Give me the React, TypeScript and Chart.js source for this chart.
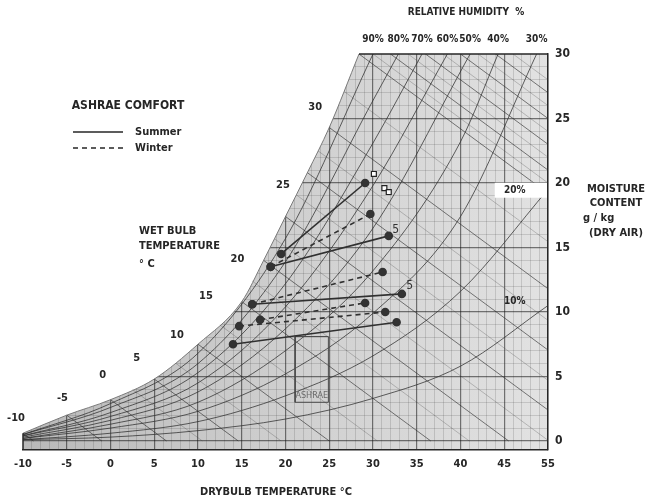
import React, { useEffect, useRef } from 'react';
import { Chart, registerables } from 'chart.js';

Chart.register(...registerables);

// ---- axis ticks ----
const xTickValues = [-10, -5, 0, 5, 10, 15, 20, 25, 30, 35, 40, 45, 50];
const xTickLabels = ['-10', '-5', '0', '5', '10', '15', '20', '25', '30', '35', '40', '45', '55'];
const yTickValues = [0, 5, 10, 15, 20, 25, 30];

// ---- saturation curve (dry bulb °C, moisture g/kg) ----
const satT = [-10, -5, 0, 5, 10, 15, 17.5, 20, 22.5, 25, 28.4];
const satW = [0.6, 2.0, 3.2, 4.8, 7.5, 10.8, 14.0, 17.4, 20.8, 24.3, 30];

// ---- relative humidity curves [T, W] ----
const rh90 = [[-10, 0.5], [0, 2.9], [10, 6.8], [20, 15.7], [30, 30]];
const rh80 = [[-10, 0.5], [0, 2.6], [10, 6.0], [20, 13.9], [30, 26.4], [32.9, 30]];
const rh70 = [[-10, 0.4], [0, 2.2], [10, 5.3], [20, 12.2], [30, 23.1], [35.6, 30]];
const rh60 = [[-10, 0.4], [0, 1.9], [10, 4.5], [20, 10.4], [30, 19.8], [38.5, 30]];
const rh50 = [[-10, 0.3], [0, 1.6], [10, 3.8], [20, 8.7], [30, 16.5], [41.1, 30]];
const rh40 = [[-10, 0.2], [0, 1.3], [10, 3.0], [20, 7.0], [30, 13.2], [40, 23.2], [44.3, 30]];
const rh30 = [[-10, 0.2], [0, 1.0], [10, 2.3], [20, 5.2], [30, 9.9], [40, 17.4], [48.7, 30]];
const rh20 = [[-10, 0.1], [0, 0.6], [10, 1.5], [20, 3.5], [30, 6.6], [40, 11.6], [50, 19.5]];
const rh10 = [[-10, 0.1], [0, 0.3], [10, 0.8], [20, 1.7], [30, 3.3], [40, 5.8], [50, 10.5]];
const rhCurves = [rh90, rh80, rh70, rh60, rh50, rh40, rh30, rh20, rh10];

// RH labels
const rhLabels = ['90%', '80%', '70%', '60%', '50%', '40%', '30%', '20%', '10%'];
const rhLabelT = [30.0, 32.9, 35.6, 38.5, 41.1, 44.3, 48.7, 46.2, 46.2];
const rhLabelW = [31.1, 31.1, 31.1, 31.1, 31.1, 31.1, 31.1, 19.4, 10.8];

// ---- wet bulb lines (main) ----
const wbStartT = [-10, -5, 0, 5, 10, 15, 17.5, 20, 22.5, 25, 28.4, 32, 36, 40, 44];
const wbStartW = [0.6, 2.0, 3.2, 4.8, 7.5, 10.8, 14.0, 17.4, 20.8, 24.3, 30, 30, 30, 30, 30];
const wbEndT = [-8.8, -1, 6.4, 14.6, 25, 36.6, 45.5, 50, 50, 50, 50, 50, 50, 50, 50];
const wbEndW = [0, 0, 0, 0, 0, 0, 0, 2.4, 7.05, 11.8, 19.2, 21, 23, 25, 27];
// ---- wet bulb lines (minor) ----
const wbMinStartT = [2.5, 7.5, 12.5, 16.2, 18.7, 21.2, 23.7, 26.7, 30, 34, 38, 42, 46];
const wbMinStartW = [4.0, 6.0, 9.0, 12.4, 15.7, 19.1, 22.5, 27.1, 30, 30, 30, 30, 30];
const wbMinEndT = [10.5, 19.5, 30.5, 41, 50, 50, 50, 50, 50, 50, 50, 50, 50];
const wbMinEndW = [0, 0, 0, 0, 0.05, 4.7, 9.35, 15.45, 20, 22, 24, 26, 28];

const wbLabels = ['30', '25', '20', '15', '10', '5', '0', '-5', '-10'];
const wbLabelT = [23.4, 19.7, 14.5, 10.9, 7.6, 3.0, -0.9, -5.5, -10.8];
const wbLabelW = [25.9, 19.8, 14.1, 11.2, 8.2, 6.4, 5.1, 3.3, 1.8];

// ---- ASHRAE comfort lines ----
const summerT = [[14.0, 32.7], [16.2, 33.3], [18.3, 31.8], [19.5, 29.1]];
const summerW = [[7.5, 9.2], [10.6, 11.4], [13.5, 15.9], [14.5, 20.0]];
const winterT = [[14.7, 31.4], [17.1, 29.1], [16.2, 31.1], [18.3, 29.7]];
const winterW = [[8.9, 10.0], [9.4, 10.7], [10.6, 13.1], [13.5, 17.6]];
const squareT = [30.1, 31.3, 31.8];
const squareW = [20.7, 19.6, 19.3];
const noteLabels = ['5', '5'];
const noteT = [32.6, 34.2];
const noteW = [16.4, 12.0];
const boxT = [21.1, 24.9, 24.9, 21.1, 21.1];
const boxW = [3.0, 3.0, 8.1, 8.1, 3.0];

const ink = '#262626';
const FAM = '"DejaVu Sans Condensed", "DejaVu Sans", sans-serif';

const textPlugin = {
  id: 'psyText',
  beforeDraw(chart: any) {
    const { ctx, chartArea: a } = chart;
    ctx.save();
    const g = ctx.createLinearGradient(a.left, 0, a.right, 0);
    g.addColorStop(0, '#b9b9b9');
    g.addColorStop(0.45, '#cdcdcd');
    g.addColorStop(1, '#e2e2e2');
    ctx.fillStyle = g;
    ctx.fillRect(a.left, a.top, a.right - a.left, a.bottom - a.top);
    ctx.restore();
  },
  afterDraw(chart: any) {
    const { ctx } = chart;
    const sx = chart.scales.x;
    const sy = chart.scales.y;
    const t = (s: string, x: number, y: number, size: number, align: CanvasTextAlign = 'center', color = ink, weight = 'bold') => {
      ctx.font = `${weight} ${size}px ${FAM}`;
      ctx.fillStyle = color;
      ctx.textAlign = align;
      ctx.textBaseline = 'middle';
      ctx.fillText(s, x, y);
    };
    ctx.save();
    // titles
    t('RELATIVE HUMIDITY  %', 466, 12, 10);
    t('DRYBULB TEMPERATURE °C', 276, 492, 11);
    t('MOISTURE', 616, 189, 11);
    t('CONTENT', 616, 203, 11);
    t('g / kg', 583, 218, 11, 'left');
    t('(DRY AIR)', 616, 233, 11);
    t('WET BULB', 139, 231, 11, 'left');
    t('TEMPERATURE', 139, 246, 11, 'left');
    t('° C', 139, 264, 11, 'left');
    // legend
    t('ASHRAE COMFORT', 128, 106, 12);
    ctx.strokeStyle = ink;
    ctx.lineWidth = 1.5;
    ctx.setLineDash([]);
    ctx.beginPath(); ctx.moveTo(73, 132); ctx.lineTo(123, 132); ctx.stroke();
    ctx.setLineDash([5, 4]);
    ctx.beginPath(); ctx.moveTo(73, 148); ctx.lineTo(124, 148); ctx.stroke();
    ctx.setLineDash([]);
    t('Summer', 135, 132, 11, 'left');
    t('Winter', 135, 148, 11, 'left');
    // RH labels
    rhLabels.forEach((s, i) => {
      const x = sx.getPixelForValue(rhLabelT[i]);
      const y = sy.getPixelForValue(rhLabelW[i]);
      if (s === '20%') {
        ctx.fillStyle = '#ffffff';
        ctx.fillRect(x - 20, y - 8, chart.chartArea.right - x + 19, 15);
      }
      t(s, x, y, 10);
    });
    // wet bulb labels
    wbLabels.forEach((s, i) => {
      t(s, sx.getPixelForValue(wbLabelT[i]), sy.getPixelForValue(wbLabelW[i]), 11);
    });
    noteLabels.forEach((s, i) => {
      t(s, sx.getPixelForValue(noteT[i]), sy.getPixelForValue(noteW[i]), 12, 'center', '#333', 'normal');
    });
    t('ASHRAE', sx.getPixelForValue(23.0), sy.getPixelForValue(3.5), 9, 'center', '#6a6a6a', 'normal');
    ctx.restore();
  },
};

export default function App() {
  const ref = useRef<HTMLCanvasElement>(null);
  useEffect(() => {
    const canvas = ref.current;
    if (!canvas) return;
    const pts = (T: number[], W: number[]) => T.map((v, i) => ({ x: v, y: W[i] }));
    const datasets: any[] = [];
    // white mask above saturation curve
    datasets.push({
      data: pts(satT, satW),
      borderColor: '#7a7a7a',
      borderWidth: 1,
      backgroundColor: '#ffffff',
      fill: 'end',
      pointRadius: 0,
      cubicInterpolationMode: 'monotone',
      order: 100,
    });
    // left edge stub and top edge
    datasets.push({
      data: [{ x: -10, y: -0.7 }, { x: -10, y: satW[0] }],
      borderColor: ink,
      borderWidth: 1.5,
      pointRadius: 0,
      clip: false,
      order: 90,
    });
    datasets.push({
      data: [{ x: satT[satT.length - 1], y: 30 }, { x: 50, y: 30 }],
      borderColor: ink,
      borderWidth: 1.5,
      pointRadius: 0,
      clip: false,
      order: 90,
    });
    rhCurves.forEach((c) => {
      datasets.push({
        data: c.map((p) => ({ x: p[0], y: p[1] })),
        borderColor: 'rgba(45,45,45,0.75)',
        borderWidth: 1,
        pointRadius: 0,
        cubicInterpolationMode: 'monotone',
        order: 60,
      });
    });
    wbStartT.forEach((v, i) => {
      datasets.push({
        data: [{ x: v, y: wbStartW[i] }, { x: wbEndT[i], y: wbEndW[i] }],
        borderColor: 'rgba(40,40,40,0.6)',
        borderWidth: 1,
        pointRadius: 0,
        order: 60,
      });
    });
    wbMinStartT.forEach((v, i) => {
      datasets.push({
        data: [{ x: v, y: wbMinStartW[i] }, { x: wbMinEndT[i], y: wbMinEndW[i] }],
        borderColor: 'rgba(60,60,60,0.35)',
        borderWidth: 0.8,
        pointRadius: 0,
        order: 61,
      });
    });
    datasets.push({
      data: pts(boxT, boxW),
      borderColor: '#4a4a4a',
      borderWidth: 1,
      pointRadius: 0,
      order: 40,
    });
    summerT.forEach((T, i) => {
      datasets.push({
        data: pts(T, summerW[i]),
        borderColor: '#303030',
        borderWidth: 1.6,
        pointRadius: 3.5,
        pointBackgroundColor: '#333',
        pointBorderColor: '#333',
        order: 5,
      });
    });
    winterT.forEach((T, i) => {
      datasets.push({
        data: pts(T, winterW[i]),
        borderColor: '#303030',
        borderWidth: 1.6,
        borderDash: [5, 4],
        pointRadius: 3.5,
        pointBackgroundColor: '#333',
        pointBorderColor: '#333',
        order: 5,
      });
    });
    datasets.push({
      data: pts(squareT, squareW),
      showLine: false,
      pointStyle: 'rect',
      pointRadius: 3.5,
      pointBackgroundColor: '#ffffff',
      pointBorderColor: '#222',
      pointBorderWidth: 1.2,
      order: 3,
    });

    const gridColor = (major: boolean) => (major ? 'rgba(20,20,20,0.55)' : 'rgba(40,40,40,0.2)');
    const xGrid: number[] = [];
    for (let v = -10; v <= 50; v++) xGrid.push(v);
    const yGrid: number[] = [];
    for (let v = 0; v <= 30; v++) yGrid.push(v);

    const chart = new Chart(canvas, {
      type: 'line',
      data: { datasets },
      options: {
        animation: false,
        responsive: true,
        maintainAspectRatio: false,
        layout: { padding: { left: 23, top: 54, right: 0, bottom: 0 } },
        plugins: { legend: { display: false }, tooltip: { enabled: false } },
        scales: {
          x: {
            type: 'linear',
            min: -10,
            max: 50,
            afterBuildTicks: (s: any) => { s.ticks = xGrid.map((v) => ({ value: v })); },
            afterFit: (s: any) => { s.height = 52; },
            ticks: {
              autoSkip: false,
              maxRotation: 0,
              padding: 8,
              color: ink,
              font: { family: FAM, size: 11, weight: 'bold' },
              callback: (v: any) => {
                const i = xTickValues.indexOf(Number(v));
                return i >= 0 ? xTickLabels[i] : '';
              },
            },
            grid: {
              drawTicks: false,
              color: (c: any) => (c.tick && c.tick.value === -10 ? 'rgba(0,0,0,0)' : gridColor(c.tick && c.tick.value % 5 === 0)),
              lineWidth: (c: any) => (c.tick && c.tick.value % 5 === 0 ? 1.2 : 0.8),
            },
            border: { display: true, color: ink, width: 1.5 },
          },
          y: {
            type: 'linear',
            position: 'right',
            min: -0.7,
            max: 30,
            afterBuildTicks: (s: any) => { s.ticks = yGrid.map((v) => ({ value: v })); },
            afterFit: (s: any) => { s.width = 99; },
            ticks: {
              autoSkip: false,
              padding: 7,
              color: ink,
              font: { family: FAM, size: 12, weight: 'bold' },
              callback: (v: any) => (yTickValues.indexOf(Number(v)) >= 0 ? String(v) : ''),
            },
            grid: {
              drawTicks: false,
              color: (c: any) => (c.tick && c.tick.value === 30 ? 'rgba(0,0,0,0)' : gridColor(c.tick && c.tick.value % 5 === 0)),
              lineWidth: (c: any) => (c.tick && c.tick.value % 5 === 0 ? 1.2 : 0.8),
            },
            border: { display: true, color: ink, width: 1.5 },
          },
        },
      } as any,
      plugins: [textPlugin],
    });
    return () => chart.destroy();
  }, []);

  return (
    <div style={{ position: 'fixed', left: 0, top: 0, width: 647, height: 502, background: '#ffffff' }}>
      <canvas ref={ref} />
    </div>
  );
}
